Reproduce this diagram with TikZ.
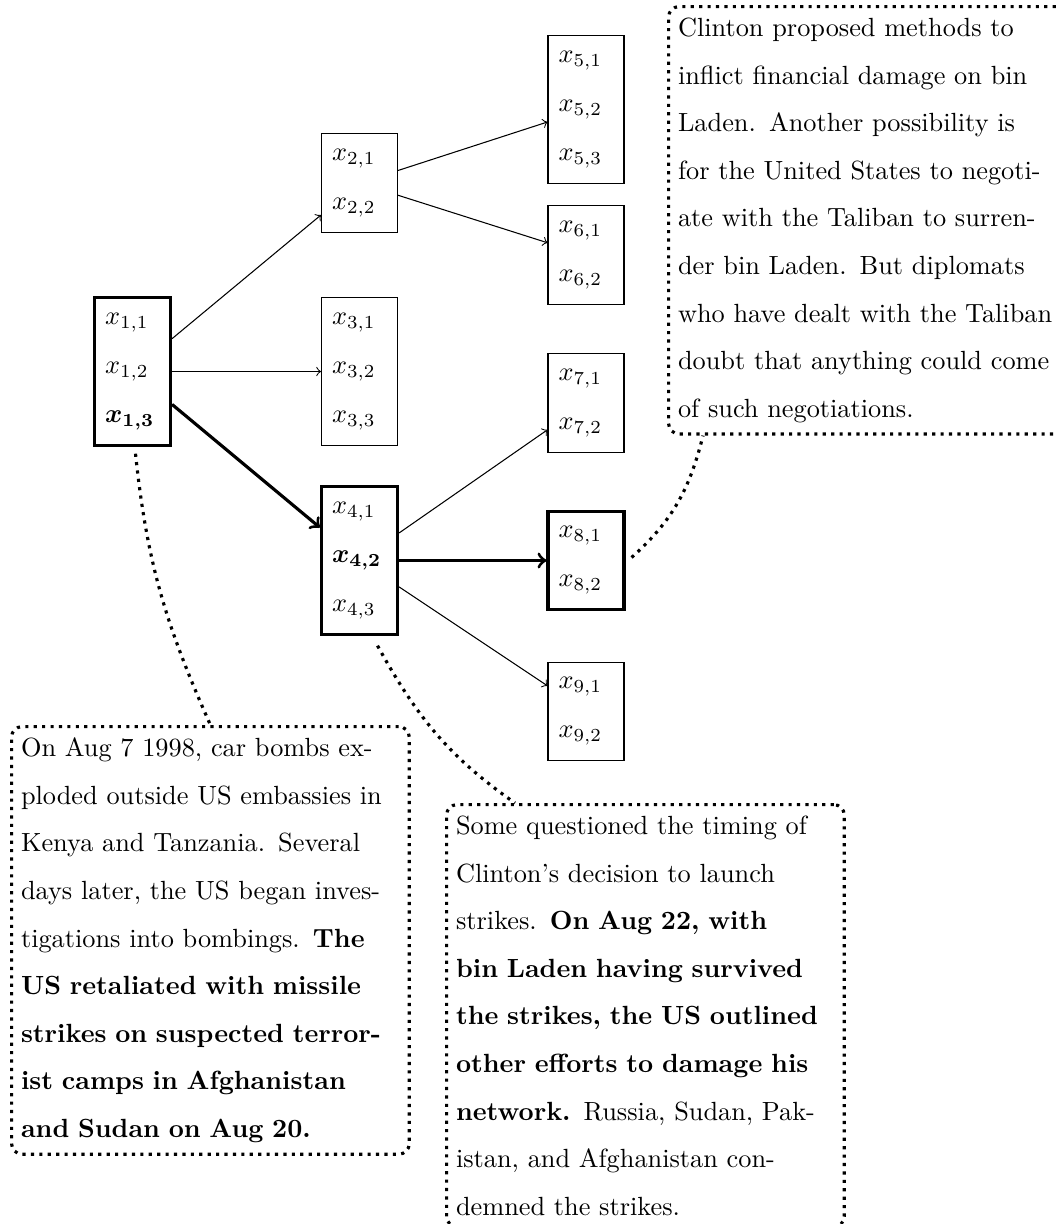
\documentclass[tikz,border=0pt]{standalone}
\usepackage{tikz}
\usetikzlibrary{arrows,calc}

\begin{document}
\begin{tikzpicture}[x=0.3802pt, y=0.3802pt,
    cell/.style={rectangle, draw, text width=20.9pt, inner xsep=4pt, inner ysep=5.8pt, align=left, font=\fontsize{10}{18.6}\selectfont},
    chosen/.style={cell, line width=1.2pt},
    story/.style={rectangle, draw, dotted, line width=1.2pt, rounded corners=4pt, text width=144pt, inner xsep=3.6pt, inner ysep=4.3pt, align=left, anchor=north west, font=\fontsize{10}{18.1}\selectfont},
    arrow/.style={->},
    pick/.style={->, line width=1.2pt},
    note/.style={dotted, line width=1.2pt}]

    \useasboundingbox (0,0) rectangle (1057,-1224);

    % First column
    \node[chosen] (b1) at (132.5,-371.5) {$x_{1,1}$\\ $x_{1,2}$\\ {\boldmath$x_{1,3}$}};

    % Second column
    \node[cell] (b2) at (359.5,-183) {$x_{2,1}$\\ $x_{2,2}$};
    \node[cell] (b3) at (359.5,-371.5) {$x_{3,1}$\\ $x_{3,2}$\\ $x_{3,3}$};
    \node[chosen] (b4) at (359.5,-560.5) {$x_{4,1}$\\ {\boldmath$x_{4,2}$}\\ $x_{4,3}$};

    % Third column
    \node[cell] (b5) at (586,-109.5) {$x_{5,1}$\\ $x_{5,2}$\\ $x_{5,3}$};
    \node[cell] (b6) at (586,-255) {$x_{6,1}$\\ $x_{6,2}$};
    \node[cell] (b7) at (586,-403) {$x_{7,1}$\\ $x_{7,2}$};
    \node[chosen] (b8) at (586,-560.5) {$x_{8,1}$\\ $x_{8,2}$};
    \node[cell] (b9) at (586,-711.5) {$x_{9,1}$\\ $x_{9,2}$};

    % Stories
    \node[story] (t1) at (10,-725) {On Aug 7 1998, car bombs ex-\linebreak ploded outside US embassies in\linebreak Kenya and Tanzania. Several\linebreak days later, the US began inves-\linebreak tigations into bombings. \textbf{The\linebreak US retaliated with missile\linebreak strikes on suspected terror-\linebreak ist camps in Afghanistan\linebreak and Sudan on Aug 20.}};
    \node[story] (t2) at (445,-803) {Some questioned the timing of\linebreak Clinton's decision to launch\linebreak strikes. \textbf{On Aug 22, with\linebreak bin Laden having survived\linebreak the strikes, the US outlined\linebreak other efforts to damage his\linebreak network.} Russia, Sudan, Pak-\linebreak istan, and Afghanistan con-\linebreak demned the strikes.};
    \node[story] (t3) at (667,-5) {Clinton proposed methods to\linebreak inflict financial damage on bin\linebreak Laden. Another possibility is\linebreak for the United States to negoti-\linebreak ate with the Taliban to surren-\linebreak der bin Laden. But diplomats\linebreak who have dealt with the Taliban\linebreak doubt that anything could come\linebreak of such negotiations.};

    % Arrows
    \draw[arrow] (b1) -- (b2);
    \draw[arrow] (b1) -- (b3);
    \draw[pick] (b1) -- (b4);
    \draw[arrow] (b2) -- (b5);
    \draw[arrow] (b2) -- (b6);
    \draw[arrow] (b4) -- (b7);
    \draw[pick] (b4) -- (b8);
    \draw[arrow] (b4) -- (b9);

    % Notes
    \draw[note] ($(b1.south)+(3,-7)$) to[out=-84, in=114] (t1.north);
    \draw[note] ($(b4.south)+(18,-10)$) to[out=-61, in=145] ($(t2.north west)+(70,0)$);
    \draw[note] ($(b8.east)+(6,3)$) to[out=42, in=-104] ($(t3.south west)+(36,0)$);

\end{tikzpicture}
\end{document}
